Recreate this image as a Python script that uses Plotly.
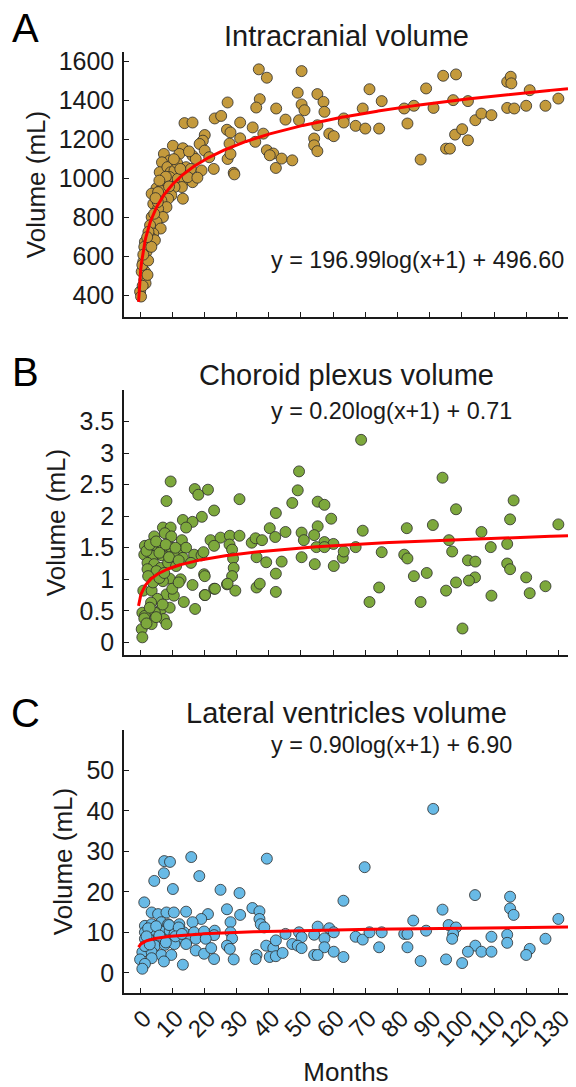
import numpy as np
import plotly.graph_objects as go

# ---------------- data ----------------
icv_months = [27.2, 13.8, 16.3, 23.2, 25.2, 31.1, 35.0, 27.0, 28.1, 31.1, 20.1, 19.5, 18.5, 20.1, 10.2, 13.3,
              12.2, 7.4, 16.3, 17.3, 9.2, 6.8, 6.1, 8.5, 9.5, 10.7, 14.3, 15.8, 19.1, 22.9, 27.2, 28.1, 29.1,
              9.2, 11.7, 13.8, 16.3, 13.0, 10.7, 7.7, 5.1, 6.4, 3.6, 9.7, 8.7, 13.3, 6.6, 4.1, 8.2, 5.6, 3.6,
              7.1, 5.1, 3.1, 6.4, 4.1, 3.1, 4.6, 1.5, 2.0, 1.0, 1.5, 0.5, 1.3, 1.7, 0.0, 0.3, 0.7, 2.3, 1.3,
              2.6, 4.4, 5.6, 14.8, 27.8, 29.3,
              2.5, 1.0, 0.8, 3.5, 2.2, 5.5, 7.5, 8.0, 11.5, 12.5, 4.8, 6.0, 9.0, 10.5, 15.2, 17.8, 21.5,
              36.9, 39.4, 50.2, 37.2, 36.1, 35.8, 38.3, 39.4, 41.4, 40.3, 42.2, 44.0, 47.3, 42.3, 45.2, 49.0,
              50.2, 51.1, 49.4, 55.1, 57.0, 57.3, 55.1, 54.1, 54.1, 55.1, 58.8, 60.2, 63.3, 63.3, 67.0, 70.0,
              69.2, 71.3, 75.1, 74.3, 82.1, 85.1, 83.1, 87.2, 88.9, 91.2, 94.2, 98.2, 97.3, 95.1, 96.3, 97.9,
              100.1, 101.9, 101.9, 104.2, 106.1, 109.2, 114.1, 114.1, 115.2, 115.4, 116.3, 120.0, 121.1,
              126.0, 130.0]
icv_values = [1391, 1285, 1288, 1309, 1322, 1288, 1263, 1251, 1237, 1207, 1224, 1195, 1178, 1144, 1169, 1156,
              1127, 1127, 1118, 1101, 1093, 1084, 1033, 1059, 1033, 1042, 1059, 1050, 1042, 1050, 1101, 1127, 1030,
              1008, 999, 991, 982, 957, 957, 948, 951, 940, 923, 914, 897, 897, 888, 871, 854, 846, 803,
              803, 778, 761, 744, 718, 701, 684, 676, 625, 574, 523, 523, 480, 463, 420, 395, 557, 506, 650,
              727, 820, 931, 1008, 1180, 1022,
              580, 610, 450, 650, 700, 880, 990, 1010, 1080, 1050, 900, 990, 960, 1100, 1140, 1005, 1110,
              1561, 1518, 1552, 1408, 1365, 1189, 1231, 1146, 1129, 1120, 1055, 1103, 1094, 1360, 1303, 1441,
              1381, 1351, 1300, 1434, 1394, 1343, 1274, 1206, 1171, 1141, 1231, 1218, 1309, 1288, 1271, 1257,
              1360, 1459, 1398, 1257, 1360, 1374, 1283, 1098, 1463, 1363, 1528, 1535, 1403, 1154, 1154, 1226,
              1254, 1398, 1197, 1300, 1334, 1326, 1363, 1497, 1523, 1489, 1360, 1374, 1454,
              1374, 1411]

cp_months = [9.5, 17.0, 18.1, 21.1, 8.2, 30.9, 23.0, 19.2, 13.3, 16.3, 14.3, 7.1, 9.5, 7.7, 4.4, 9.7, 13.0,
             21.9, 25.0, 27.9, 30.9, 34.7, 23.0, 27.8, 1.5, 3.6, 5.6, 6.8, 9.7, 11.7, 14.3, 1.3, 4.1, 6.8,
             10.5, 13.3, 16.8, 19.1, 19.7, 28.6, 2.3, 4.4, 6.4, 8.7, 11.2, 15.8, 28.9, 29.1, 2.3, 5.1, 28.6,
             19.9, 20.1, 9.2, 12.6, 7.1, 1.0, 3.6, 16.3, 23.0, 27.0, 29.6, 8.2, 13.6, 20.1, 10.5, 5.4, 3.4,
             6.6, 17.1, 9.2, 0.7, 4.6, 1.5, 7.4, 3.6, 8.2, 0.5, 0.7, 1.3,
             2.0, 3.0, 5.0, 6.0, 8.0, 9.0, 11.0, 12.0, 2.5, 4.0, 6.0, 7.5, 10.0, 12.0, 3.0, 5.0, 2.0, 7.0,
             68.7, 49.4, 49.0, 94.0, 98.2, 116.1, 115.0, 55.2, 57.3, 59.4, 47.3, 42.2, 40.3, 45.2, 50.2, 50.9,
             55.2, 54.1, 57.3, 60.1, 69.2, 82.9, 91.0, 96.0, 106.1, 109.0, 114.1, 130.0, 35.9, 37.9, 42.0,
             36.2, 39.2, 44.0, 50.2, 54.3, 54.8, 57.3, 60.2, 63.0, 63.3, 67.0, 75.1, 82.1, 83.1, 85.1, 89.1,
             97.0, 101.9, 104.2, 104.1, 102.2, 98.2, 95.1, 87.2, 74.3, 71.3, 100.2, 109.2, 114.1, 115.0,
             120.0, 121.1, 126.0, 36.2, 37.2, 42.2, 42.2, 27.2, 23.3, 20.2]
cp_values = [2.55, 2.43, 2.34, 2.42, 2.24, 2.27, 2.09, 1.99, 1.94, 1.91, 1.82, 1.82, 1.82, 1.73, 1.68, 1.68, 1.62,
             1.62, 1.66, 1.69, 1.69, 1.58, 1.53, 1.55, 1.53, 1.50, 1.50, 1.47, 1.50, 1.47, 1.50, 1.39, 1.37, 1.38,
             1.38, 1.34, 1.39, 1.38, 1.43, 1.47, 1.26, 1.24, 1.18, 1.26, 1.21, 1.26, 1.33, 1.18, 1.16, 1.13, 1.05,
             1.08, 1.05, 1.01, 1.00, 0.97, 0.82, 0.82, 0.91, 0.85, 0.92, 0.82, 0.76, 0.64, 0.75, 0.74, 0.69, 0.63,
             0.53, 0.53, 0.55, 0.47, 0.47, 0.42, 0.37, 0.29, 0.29, 0.21, 0.08, 0.38,
             1.45, 1.55, 1.60, 1.42, 1.55, 1.35, 1.50, 1.30, 1.05, 0.95, 1.02, 1.10, 0.85, 0.95, 0.55, 0.40, 0.30, 0.60,
             3.21, 2.71, 2.41, 2.61, 2.11, 2.25, 1.95, 2.23, 2.18, 1.96, 2.21, 2.05, 1.81, 1.75, 1.74, 1.62,
             1.84, 1.70, 1.59, 1.56, 1.77, 1.81, 1.86, 1.62, 1.75, 1.51, 1.56, 1.87, 1.65, 1.62, 1.67,
             1.35, 1.27, 1.28, 1.35, 1.24, 1.51, 1.51, 1.21, 1.34, 1.44, 1.51, 1.43, 1.39, 1.33, 1.05, 1.10,
             1.44, 1.30, 1.28, 1.03, 0.98, 0.95, 0.82, 0.64, 0.87, 0.64, 0.22, 0.74, 1.25, 1.16,
             1.03, 0.78, 0.89, 0.87, 0.93, 0.80, 1.09, 0.93, 0.85, 0.75]

lv_months = [7.4, 4.4, 18.4, 10.2, 25.0, 30.9, 1.3, 27.0, 31.1, 3.6, 5.6, 8.2, 10.5, 14.3, 21.1, 19.0, 16.3,
             28.1, 1.5, 3.6, 6.6, 8.7, 12.2, 1.5, 4.6, 6.6, 9.2, 10.7, 13.6, 16.8, 19.9, 23.2, 23.0, 28.1,
             28.6, 1.5, 3.6, 5.8, 8.7, 11.7, 14.8, 17.3, 20.4, 4.6, 7.7, 10.7, 14.3, 17.3, 19.9, 22.1, 27.0,
             27.9, 0.7, 3.6, 6.6, 9.7, 7.4, 3.6, 0.0, 1.5, 0.7, 13.3, 23.0, 29.1, 1.5, 7.5, 9.3, 15.9,
             39.4, 91.1, 69.8, 63.2, 104.1, 115.0, 115.0, 116.1, 94.0, 34.9, 37.1, 37.1, 37.5, 38.6, 84.9,
             95.9, 98.2, 130.0, 55.2, 58.8, 60.2, 45.2, 49.4, 50.2, 54.1, 57.3, 67.0, 69.2, 71.3, 75.1, 82.1,
             83.1, 88.9, 97.3, 97.0, 109.2, 114.1, 114.1, 126.0, 39.2, 41.4, 42.2, 47.3, 49.0, 50.2, 57.3,
             74.3, 83.1, 104.2, 106.1, 101.9, 109.2, 121.1, 120.0, 36.2, 35.9, 40.3, 42.2, 44.3, 54.1, 55.2,
             60.2, 63.2, 87.2, 95.1, 100.1,
             2.5, 5.0, 9.0, 12.0, 2.0, 6.0, 11.0, 3.0, 8.0, 13.0]
lv_values = [24.6, 22.7, 23.9, 20.7, 20.5, 19.7, 17.4, 15.7, 14.3, 14.9, 14.5, 14.9, 14.9, 15.1, 14.5, 13.3, 12.5,
             12.5, 11.6, 12.0, 12.5, 12.0, 12.0, 10.0, 10.4, 10.2, 10.4, 9.6, 10.0, 10.0, 10.2, 10.4, 9.3, 10.0,
             8.5, 8.4, 8.0, 8.5, 8.0, 8.4, 8.2, 8.4, 8.4, 6.7, 6.9, 7.1, 7.1, 5.5, 4.7, 6.1, 6.7,
             5.9, 5.1, 5.1, 4.4, 4.4, 2.8, 3.6, 3.3, 2.2, 1.0, 2.0, 3.4, 3.3, 6.6, 27.6, 27.4, 28.6,
             28.2, 40.5, 26.1, 17.8, 19.2, 18.8, 15.9, 14.3, 15.6, 16.0, 15.2, 13.3, 12.0, 11.2, 12.9,
             11.8, 11.2, 13.3, 11.4, 11.0, 10.0, 9.6, 10.0, 8.8, 9.4, 8.5, 8.9, 8.2, 10.0, 10.0, 9.6,
             9.6, 10.4, 9.6, 8.4, 8.9, 9.4, 7.4, 8.4, 6.7, 6.1, 8.0, 7.1, 6.7, 6.1, 6.3,
             6.3, 6.3, 6.7, 5.2, 5.2, 5.2, 5.9, 4.4, 4.4, 3.4, 3.9, 4.1, 4.9, 4.4, 4.4,
             5.2, 3.9, 2.9, 3.3, 2.4,
             11.0, 11.5, 11.8, 11.2, 9.0, 9.2, 9.0, 7.0, 7.5, 9.6]

# fitted model coefficients shown on the chart: y = a*log(x+1) + b
fit_icv = (196.99, 496.60)
fit_cp = (0.20, 0.71)
fit_lv = (0.90, 6.90)
fit_x_start, fit_x_end = -0.48, 133

month_ticks = list(range(0, 131, 10))
titles = ["Intracranial volume", "Choroid plexus volume", "Lateral ventricles volume"]
letters = ["A", "B", "C"]
equations = ["y = 196.99log(x+1) + 496.60", "y = 0.20log(x+1) + 0.71", "y = 0.90log(x+1) + 6.90"]
eq_y = [580, 3.66, 56.4]
eq_x = 40

# ---------------- figure ----------------
FONT = "Liberation Sans, Arial, Helvetica, sans-serif"
INK = "#1a1a1a"
W, H = 576, 1087
ML, MR, MT, MB = 124, 8, 52, 94
plot_h = H - MT - MB

def py(pixel_y):
    return (H - MB - pixel_y) / plot_h

def px(pixel_x):
    return (pixel_x - ML) / (W - ML - MR)

panels = [
    dict(x=icv_months, y=icv_values, fit=fit_icv, color="#C49A3C", top=52, bottom=317,
         yr=[290, 1650], yt=list(range(400, 1601, 200))),
    dict(x=cp_months, y=cp_values, fit=fit_cp, color="#7DA83C", top=390, bottom=655,
         yr=[-0.2, 4.0], yt=[0, 0.5, 1, 1.5, 2, 2.5, 3, 3.5]),
    dict(x=lv_months, y=lv_values, fit=fit_lv, color="#68BAE6", top=730, bottom=993,
         yr=[-5, 60], yt=[0, 10, 20, 30, 40, 50]),
]

fig = go.Figure()
xf = np.linspace(fit_x_start, fit_x_end, 600)
annotations = []
title_y = [36, 375, 713]
letter_y = [28, 372, 713]

for i, p in enumerate(panels):
    n = "" if i == 0 else str(i + 1)
    fig.add_trace(go.Scatter(
        x=p["x"], y=p["y"], mode="markers", xaxis="x" + n, yaxis="y" + n,
        marker=dict(size=11, color=p["color"], line=dict(color="#2b2b2b", width=0.8)),
        showlegend=False, hoverinfo="skip"))
    a, b = p["fit"]
    fig.add_trace(go.Scatter(
        x=xf, y=a * np.log(xf + 1) + b, mode="lines", xaxis="x" + n, yaxis="y" + n,
        line=dict(color="#FF0000", width=3), showlegend=False, hoverinfo="skip"))

    last = i == 2
    fig.update_layout(**{
        "xaxis" + n: dict(
            domain=[0, 1], anchor="y" + n, range=[-5, 133], tickvals=month_ticks,
            ticktext=[str(t) for t in month_ticks], showticklabels=last, automargin=False,
            tickangle=-45, ticks="inside", ticklen=5, tickwidth=1.3, tickcolor=INK,
            ticklabelshift=4, ticklabeloverflow="allow",
            showline=True, linecolor=INK, linewidth=1.5, showgrid=False, zeroline=False,
            tickfont=dict(family=FONT, size=24, color=INK),
            title=dict(text="Months" if last else "", font=dict(family=FONT, size=26, color=INK),
                       standoff=14),
        ),
        "yaxis" + n: dict(
            domain=[py(p["bottom"]), py(p["top"])], anchor="x" + n, range=p["yr"],
            tickvals=p["yt"], ticktext=[f"{v:g}" for v in p["yt"]], automargin=False,
            ticks="inside", ticklen=5, tickwidth=1.3, tickcolor=INK,
            showline=True, linecolor=INK, linewidth=1.5, showgrid=False, zeroline=False,
            tickfont=dict(family=FONT, size=25, color=INK), ticklabelstandoff=3,
            title=dict(text="Volume (mL)", font=dict(family=FONT, size=26, color=INK), standoff=6),
        ),
    })
    annotations.append(dict(text=titles[i], xref="paper", yref="paper", x=px(346), y=py(title_y[i]),
                            xanchor="center", yanchor="middle", showarrow=False,
                            font=dict(family=FONT, size=29, color=INK)))
    annotations.append(dict(text=letters[i], xref="paper", yref="paper", x=px(25), y=py(letter_y[i]),
                            xanchor="center", yanchor="middle", showarrow=False,
                            font=dict(family=FONT, size=40, color="#000000")))
    annotations.append(dict(text=equations[i], xref="x" + n, yref="y" + n, x=eq_x, y=eq_y[i],
                            xanchor="left", yanchor="middle", showarrow=False,
                            font=dict(family=FONT, size=23.4, color=INK)))

fig.update_layout(width=W, height=H, margin=dict(l=ML, r=MR, t=MT, b=MB, autoexpand=False),
                  paper_bgcolor="white", plot_bgcolor="white", annotations=annotations,
                  font=dict(family=FONT, color=INK))

fig.write_html("out.html")
